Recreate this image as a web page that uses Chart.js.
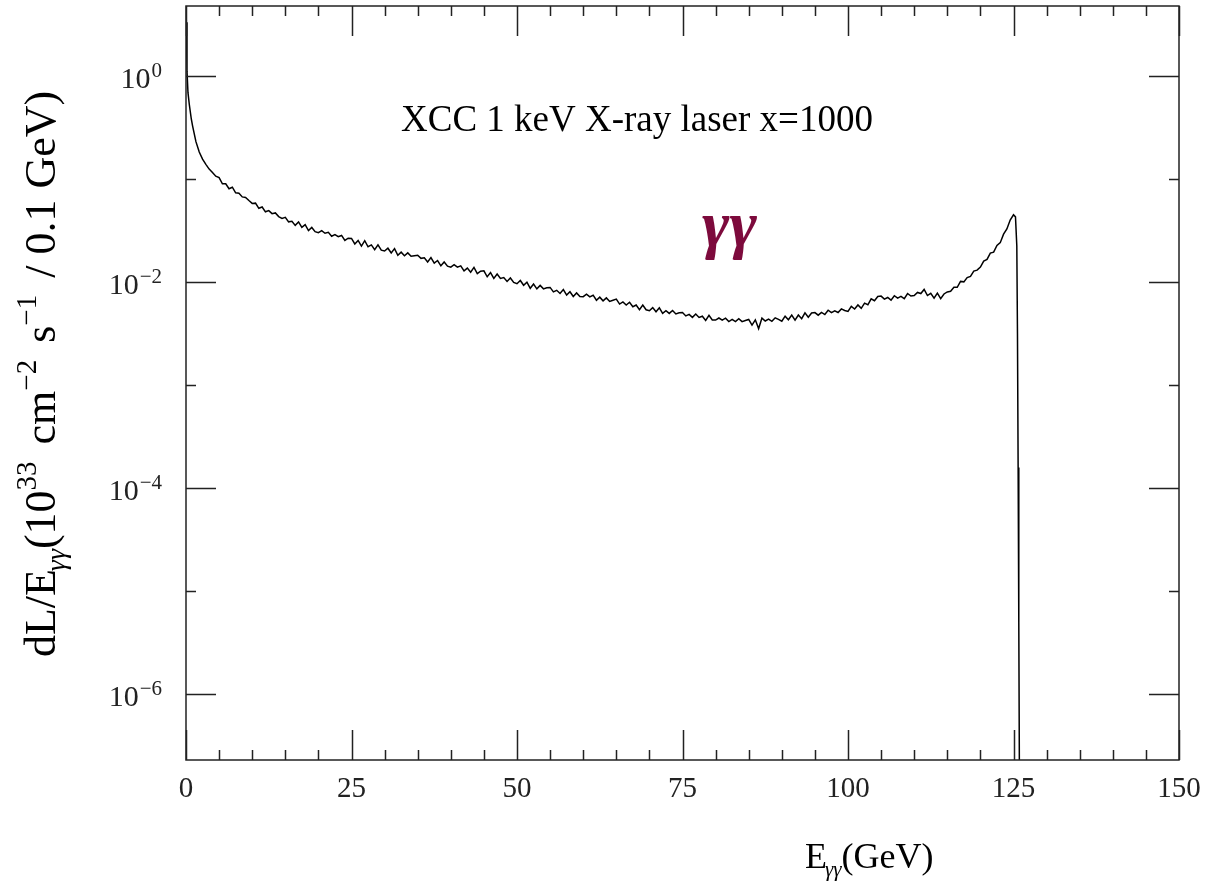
<!DOCTYPE html>
<html>
<head>
<meta charset="utf-8">
<script src="https://cdn.jsdelivr.net/npm/chart.js@4.4.1/dist/chart.umd.min.js"></script>
<style>
  body { margin: 0; background: #fff; }
  canvas { display: block; }
</style>
</head>
<body>
<canvas id="lumi" width="1206" height="882"></canvas>
<script>
// photon-photon luminosity spectrum, 0.1 GeV bins (GeV)
var energy = [
  0.05, 0.15, 0.3, 0.5, 0.8, 1.0, 1.5, 2.0, 2.5, 3.0, 3.5, 4.0, 4.5,
  5.0, 5.5, 6.0, 6.5, 7.0, 7.5, 8.0, 8.5, 9.0, 9.5,
  10.0, 10.5, 11.0, 11.5, 12.0, 12.5, 13.0, 13.5, 14.0, 14.5,
  15.0, 15.5, 16.0, 16.5, 17.0, 17.5, 18.0, 18.5, 19.0, 19.5,
  20.0, 20.5, 21.0, 21.5, 22.0, 22.5, 23.0, 23.5, 24.0, 24.5,
  25.0, 25.5, 26.0, 26.5, 27.0, 27.5, 28.0, 28.5, 29.0, 29.5,
  30.0, 30.5, 31.0, 31.5, 32.0, 32.5, 33.0, 33.5, 34.0, 34.5,
  35.0, 35.5, 36.0, 36.5, 37.0, 37.5, 38.0, 38.5, 39.0, 39.5,
  40.0, 40.5, 41.0, 41.5, 42.0, 42.5, 43.0, 43.5, 44.0, 44.5,
  45.0, 45.5, 46.0, 46.5, 47.0, 47.5, 48.0, 48.5, 49.0, 49.5,
  50.0, 50.5, 51.0, 51.5, 52.0, 52.5, 53.0, 53.5, 54.0, 54.5,
  55.0, 55.5, 56.0, 56.5, 57.0, 57.5, 58.0, 58.5, 59.0, 59.5,
  60.0, 60.5, 61.0, 61.5, 62.0, 62.5, 63.0, 63.5, 64.0, 64.5,
  65.0, 65.5, 66.0, 66.5, 67.0, 67.5, 68.0, 68.5, 69.0, 69.5,
  70.0, 70.5, 71.0, 71.5, 72.0, 72.5, 73.0, 73.5, 74.0, 74.5,
  75.0, 75.5, 76.0, 76.5, 77.0, 77.5, 78.0, 78.5, 79.0, 79.5,
  80.0, 80.5, 81.0, 81.5, 82.0, 82.5, 83.0, 83.5, 84.0, 84.5,
  85.0, 85.5, 86.0, 86.5, 87.0, 87.5, 88.0, 88.5, 89.0, 89.5,
  90.0, 90.5, 91.0, 91.5, 92.0, 92.5, 93.0, 93.5, 94.0, 94.5,
  95.0, 95.5, 96.0, 96.5, 97.0, 97.5, 98.0, 98.5, 99.0, 99.5,
  100.0, 100.5, 101.0, 101.5, 102.0, 102.5, 103.0, 103.5, 104.0, 104.5,
  105.0, 105.5, 106.0, 106.5, 107.0, 107.5, 108.0, 108.5, 109.0, 109.5,
  110.0, 110.5, 111.0, 111.5, 112.0, 112.5, 113.0, 113.5, 114.0, 114.5,
  115.0, 115.5, 116.0, 116.5, 117.0, 117.5, 118.0, 118.5, 119.0, 119.5,
  120.0, 120.5, 121.0, 121.5, 122.0, 122.5, 123.0, 123.5, 124.0, 124.5,
  125.0, 125.3, 125.5, 125.6, 125.7, 125.8, 125.9, 126.0
];

// dL/E (10^33 cm^-2 s^-1 / 0.1 GeV)
var lumi = [
  3.3, 1.1, 0.684, 0.525, 0.380, 0.324, 0.229, 0.182, 0.155, 0.138, 0.124, 0.115, 0.106,
  0.1025, 8.94e-2, 8.94e-2, 8.01e-2, 8.28e-2, 7.30e-2, 7.23e-2, 6.67e-2, 6.59e-2, 6.15e-2,
  5.77e-2, 5.80e-2, 5.17e-2, 5.32e-2, 4.78e-2, 4.91e-2, 4.59e-2, 4.66e-2, 4.30e-2, 4.13e-2,
  4.23e-2, 3.82e-2, 3.87e-2, 3.53e-2, 3.81e-2, 3.37e-2, 3.58e-2, 3.14e-2, 3.37e-2, 3.07e-2,
  3.00e-2, 3.14e-2, 2.96e-2, 3.02e-2, 2.77e-2, 2.87e-2, 2.74e-2, 2.82e-2, 2.52e-2, 2.65e-2,
  2.64e-2, 2.33e-2, 2.52e-2, 2.22e-2, 2.51e-2, 2.19e-2, 2.28e-2, 2.05e-2, 2.28e-2, 2.03e-2,
  1.99e-2, 2.12e-2, 1.91e-2, 2.10e-2, 1.81e-2, 1.94e-2, 1.79e-2, 1.91e-2, 1.77e-2, 1.79e-2,
  1.81e-2, 1.69e-2, 1.71e-2, 1.56e-2, 1.72e-2, 1.52e-2, 1.61e-2, 1.43e-2, 1.56e-2, 1.42e-2,
  1.39e-2, 1.47e-2, 1.39e-2, 1.43e-2, 1.28e-2, 1.36e-2, 1.24e-2, 1.38e-2, 1.20e-2, 1.27e-2,
  1.28e-2, 1.12e-2, 1.23e-2, 1.08e-2, 1.19e-2, 1.08e-2, 1.10e-2, 1.01e-2, 1.09e-2, 9.89e-3,
  9.60e-3, 1.03e-2, 9.26e-3, 9.91e-3, 8.66e-3, 9.51e-3, 8.55e-3, 9.23e-3, 8.55e-3, 8.77e-3,
  8.83e-3, 7.99e-3, 8.28e-3, 7.72e-3, 8.42e-3, 7.44e-3, 8.01e-3, 7.21e-3, 7.80e-3, 7.19e-3,
  7.18e-3, 7.60e-3, 7.16e-3, 7.42e-3, 6.63e-3, 7.10e-3, 6.54e-3, 6.99e-3, 6.46e-3, 6.63e-3,
  6.81e-3, 6.09e-3, 6.38e-3, 5.96e-3, 6.34e-3, 5.74e-3, 5.96e-3, 5.36e-3, 5.95e-3, 5.36e-3,
  5.24e-3, 5.62e-3, 5.12e-3, 5.60e-3, 4.95e-3, 5.25e-3, 4.94e-3, 5.28e-3, 4.88e-3, 5.01e-3,
  5.05e-3, 4.67e-3, 4.84e-3, 4.52e-3, 4.87e-3, 4.51e-3, 4.64e-3, 4.22e-3, 4.73e-3, 4.26e-3,
  4.26e-3, 4.46e-3, 4.26e-3, 4.44e-3, 4.12e-3, 4.32e-3, 4.11e-3, 4.39e-3, 4.11e-3, 4.22e-3,
  4.32e-3, 3.81e-3, 4.28e-3, 3.52e-3, 4.45e-3, 4.17e-3, 4.34e-3, 4.14e-3, 4.48e-3, 4.32e-3,
  4.15e-3, 4.65e-3, 4.29e-3, 4.75e-3, 4.25e-3, 4.76e-3, 4.39e-3, 5.01e-3, 4.54e-3, 4.99e-3,
  5.03e-3, 4.75e-3, 5.05e-3, 4.82e-3, 5.31e-3, 5.03e-3, 5.23e-3, 5.04e-3, 5.46e-3, 5.27e-3,
  5.16e-3, 5.78e-3, 5.45e-3, 5.97e-3, 5.53e-3, 6.21e-3, 5.99e-3, 6.85e-3, 6.56e-3, 7.21e-3,
  7.27e-3, 6.80e-3, 7.05e-3, 6.65e-3, 7.34e-3, 6.95e-3, 7.22e-3, 6.88e-3, 7.71e-3, 7.28e-3,
  7.36e-3, 7.89e-3, 7.70e-3, 8.44e-3, 7.37e-3, 7.73e-3, 6.95e-3, 7.77e-3, 6.87e-3, 7.63e-3,
  7.99e-3, 8.11e-3, 8.88e-3, 8.85e-3, 1.01e-2, 1.00e-2, 1.10e-2, 1.13e-2, 1.27e-2, 1.30e-2,
  1.39e-2, 1.59e-2, 1.65e-2, 1.90e-2, 1.94e-2, 2.25e-2, 2.40e-2, 2.90e-2, 3.26e-2, 3.98e-2,
  4.47e-2, 4.27e-2, 2.24e-2, 3.16e-3, 1.58e-4, 5.0e-6, 1.26e-7, 1e-9
];

// axis ticks
var xTicks = [0, 5, 10, 15, 20, 25, 30, 35, 40, 45, 50, 55, 60, 65, 70, 75,
              80, 85, 90, 95, 100, 105, 110, 115, 120, 125, 130, 135, 140, 145, 150];
var xTickLabels = [0, 25, 50, 75, 100, 125, 150];
var yDecades = [0, -1, -2, -3, -4, -5, -6];
var yLabelDecades = [0, -2, -4, -6];

var SERIF = '"Liberation Serif", "Times New Roman", serif';

// draw a row of text pieces (sub/superscripts) starting at x,y
function runsWidth(ctx, runs) {
    var w = 0;
    runs.forEach(function(r) {
        ctx.font = (r.style || '') + ' ' + r.size + 'px ' + SERIF;
        w += ctx.measureText(r.t).width + (r.gap || 0);
    });
    return w;
}
function drawRuns(ctx, runs, x, y) {
    runs.forEach(function(r) {
        ctx.font = (r.style || '') + ' ' + r.size + 'px ' + SERIF;
        ctx.fillText(r.t, x, y + (r.dy || 0));
        x += ctx.measureText(r.t).width + (r.gap || 0);
    });
}

var framePlugin = {
    id: 'frame',
    afterDraw: function(chart) {
        var ctx = chart.ctx;
        var a = chart.chartArea;
        var xs = chart.scales.x, ys = chart.scales.y;
        ctx.save();
        ctx.strokeStyle = '#222';
        ctx.lineWidth = 1.5;
        ctx.strokeRect(a.left, a.top, a.right - a.left, a.bottom - a.top);

        // inward ticks, top and bottom
        ctx.beginPath();
        xTicks.forEach(function(v) {
            var px = Math.round(xs.getPixelForValue(v)) + 0.5;
            var len = (v % 25 === 0) ? 30 : 10;
            ctx.moveTo(px, a.bottom); ctx.lineTo(px, a.bottom - len);
            ctx.moveTo(px, a.top); ctx.lineTo(px, a.top + len);
        });
        // left and right
        yDecades.forEach(function(d) {
            var py = Math.round(ys.getPixelForValue(Math.pow(10, d))) + 0.5;
            var len = (d % 2 === 0) ? 30 : 10;
            ctx.moveTo(a.left, py); ctx.lineTo(a.left + len, py);
            ctx.moveTo(a.right, py); ctx.lineTo(a.right - len, py);
        });
        ctx.stroke();

        ctx.fillStyle = '#222';
        ctx.textBaseline = 'alphabetic';

        // x tick labels
        ctx.font = '29px ' + SERIF;
        ctx.textAlign = 'center';
        xTickLabels.forEach(function(v) {
            ctx.fillText(String(v), xs.getPixelForValue(v), 797);
        });

        // y tick labels 10^n
        ctx.textAlign = 'right';
        yLabelDecades.forEach(function(d) {
            var py = ys.getPixelForValue(Math.pow(10, d));
            var sup = d === 0 ? '0' : '\u2212' + (-d);
            ctx.font = '21px ' + SERIF;
            var supW = ctx.measureText(sup).width;
            ctx.fillText(sup, a.left - 24, py + 1);
            ctx.font = '30px ' + SERIF;
            ctx.fillText('10', a.left - 25 - supW, py + 12);
        });

        ctx.fillStyle = '#000';

        // title inside the frame
        ctx.font = '37px ' + SERIF;
        ctx.textAlign = 'center';
        ctx.fillText('XCC 1 keV X-ray laser x=1000', 637, 131);

        // gamma gamma tag
        ctx.fillStyle = '#7d0a3c';
        ctx.font = 'italic bold 66px ' + SERIF;
        ctx.textAlign = 'left';
        ctx.fillText('\u03b3\u03b3', 702, 246);

        // x axis title
        ctx.fillStyle = '#000';
        drawRuns(ctx, [
            { t: 'E', size: 36, gap: -2 },
            { t: '\u03b3\u03b3', size: 21, style: 'italic', dy: 8 },
            { t: '(GeV)', size: 36 }
        ], 805, 868);

        // y axis title, rotated
        var yRuns = [
            { t: 'dL/E', size: 44, gap: -2 },
            { t: '\u03b3\u03b3', size: 28, style: 'italic', dy: 10 },
            { t: '(10', size: 44 },
            { t: '33', size: 29, dy: -19, gap: 6 },
            { t: ' cm', size: 44 },
            { t: '\u22122', size: 29, dy: -19, gap: 6 },
            { t: ' s', size: 44 },
            { t: '\u22121', size: 29, dy: -19, gap: 6 },
            { t: ' / 0.1 GeV)', size: 44 }
        ];
        var w = runsWidth(ctx, yRuns);
        ctx.translate(55, 374);
        ctx.rotate(-Math.PI / 2);
        drawRuns(ctx, yRuns, -w / 2, 0);
        ctx.restore();
    }
};

var points = energy.map(function(e, i) { return { x: e, y: lumi[i] }; });

var config = {
    type: 'line',
    data: {
        datasets: [{
            data: points,
            borderColor: '#000',
            borderWidth: 1.5,
            pointRadius: 0,
            tension: 0,
            fill: false
        }]
    },
    options: {
        responsive: false,
        animation: false,
        layout: { padding: { left: 186, right: 27, top: 6, bottom: 122 } },
        plugins: { legend: { display: false }, tooltip: { enabled: false } },
        scales: {
            x: { type: 'linear', min: 0, max: 150, display: false },
            y: { type: 'logarithmic', min: 2.3e-7, max: 4.74, display: false }
        }
    },
    plugins: [framePlugin]
};

window.onload = function() {
    var ctx = document.getElementById('lumi').getContext('2d');
    window.lumiChart = new Chart(ctx, config);
};
</script>
</body>
</html>
